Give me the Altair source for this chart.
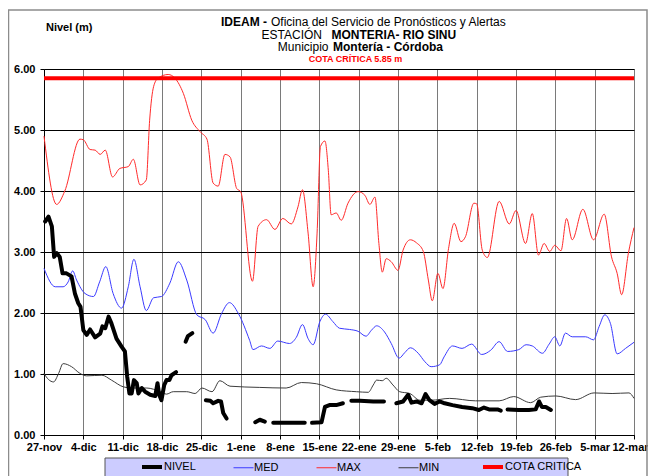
import altair as alt
import pandas as pd

# ---------------- data ----------------
TICK_DAYS = [0, 7, 14, 21, 28, 35, 42, 49, 56, 63, 70, 77, 84, 91, 98, 105]
TICK_LABELS = ["27-nov", "4-dic", "11-dic", "18-dic", "25-dic", "1-ene", "8-ene",
               "15-ene", "22-ene", "29-ene", "5-feb", "12-feb", "19-feb", "26-feb",
               "5-mar", "12-mar"]

SERIES = ["NIVEL", "MED", "MAX", "MIN", "COTA CRITICA"]
COLORS = ["#000000", "#3a3aff", "#ff2a2a", "#3c3c3c", "#ff0000"]
WIDTHS = [4, 1, 1, 1, 4]
COTA = 5.85

MAX_DAY = [0, 2.25, 3.7, 6.4, 7, 8.2, 9.1, 10, 10.9, 12.2, 13.5, 15, 15.9, 17.1, 18.2,
           18.8, 19.5, 20.3, 22.1, 23.3, 24.8, 26.3, 27.8, 29, 30.1, 31, 32.2, 33.1,
           34.3, 35, 37.1, 38.1, 39.6, 41.1, 42.5, 44, 45.2, 46, 47, 47.9, 48.6, 49.2,
           50, 50.6, 51.1, 52, 52.9, 54.1, 55.9, 57.1, 58, 58.9, 59.6, 60.2, 60.9, 61.8,
           63, 63.9, 65.2, 66.3, 67.5, 68.4, 69.1, 70.1, 71, 72, 73, 74.2, 75, 76.5, 77,
           78, 78.9, 81, 82.8, 84, 85.7, 86.9, 88, 89, 90, 90.9, 92, 93, 94, 95.9, 97.8,
           99.7, 101, 102, 102.8, 104, 105]
MAX_VAL = [4.90, 3.78, 4.00, 4.85, 4.84, 4.68, 4.67, 4.60, 4.67, 4.23, 4.37, 4.40, 4.52,
           4.10, 4.18, 5.16, 5.71, 5.85, 5.91, 5.85, 5.60, 5.16, 4.97, 4.85, 4.13, 4.08,
           4.60, 4.56, 4.04, 3.99, 2.52, 3.42, 3.53, 3.37, 3.55, 3.46, 3.74, 4.02, 3.31,
           2.43, 3.31, 4.73, 4.82, 4.34, 3.61, 3.64, 3.52, 3.80, 3.99, 3.93, 3.78, 3.90,
           3.14, 2.67, 2.89, 2.84, 2.70, 3.03, 3.20, 3.15, 3.01, 2.54, 2.20, 2.65, 2.40,
           3.06, 3.47, 3.17, 3.25, 3.80, 3.79, 3.03, 2.91, 3.83, 3.46, 3.68, 3.14, 3.63,
           2.95, 3.14, 3.01, 3.11, 3.02, 3.55, 3.20, 3.70, 3.20, 3.62, 2.92, 2.65, 2.30,
           2.98, 3.40]

MED_DAY = [0, 2, 3.4, 4.3, 5.1, 5.8, 7.3, 8.8, 9.9, 11, 12.3, 13.8, 15, 16, 17.1, 18.2,
           19.5, 20.9, 22.4, 23.9, 25.4, 27.2, 28.7, 30.1, 31.6, 33, 34.6, 36.6, 37.2,
           38.7, 40.2, 41.6, 43.7, 44.9, 46, 47, 47.9, 49.1, 50.1, 51.4, 52.6, 54.4,
           55.9, 57.3, 58.3, 59.2, 60.6, 61.8, 63.2, 64.2, 65.2, 66.6, 67.8, 68.9, 70.4,
           71.2, 72.7, 74.4, 76.1, 77.9, 79.5, 81, 82.5, 84.5, 85.8, 86.9, 88.7, 89.9,
           90.9, 91.8, 92.8, 94, 96.4, 97.8, 98.8, 99.8, 100.8, 102, 103.5, 105]
MED_VAL = [2.73, 2.43, 2.43, 2.51, 2.69, 2.54, 2.32, 2.27, 2.51, 2.76, 2.32, 2.08, 2.43,
           2.88, 2.43, 2.04, 2.25, 2.27, 2.49, 2.84, 2.54, 1.97, 1.89, 1.67, 1.99, 2.17,
           1.99, 1.55, 1.40, 1.46, 1.42, 1.54, 1.50, 1.60, 1.81, 1.58, 1.48, 1.86, 1.98,
           1.86, 1.75, 1.73, 1.70, 1.62, 1.72, 1.79, 1.69, 1.50, 1.26, 1.35, 1.43, 1.34,
           1.20, 1.12, 1.15, 1.28, 1.46, 1.42, 1.49, 1.32, 1.39, 1.53, 1.37, 1.40, 1.48,
           1.46, 1.34, 1.49, 1.61, 1.46, 1.67, 1.61, 1.61, 1.56, 1.78, 1.97, 1.83, 1.33,
           1.42, 1.52]

MIN_DAY = [0, 0.8, 1.7, 2.6, 3.4, 4.9, 6.4, 7.6, 10.3, 12, 14.1, 15.6, 18.3, 20.7, 21.8,
           23, 25.4, 26.9, 28.1, 29.9, 31.3, 33.1, 38.4, 43.1, 45.8, 48.5, 52, 55.6, 57.7,
           58.6, 59.2, 60.2, 60.9, 62.1, 63.3, 65.1, 66.9, 68.9, 72.2, 76.8, 81, 83.6,
           86.6, 88.4, 91.1, 94.6, 97.9, 101.1, 104.1, 105]
MIN_VAL = [1.01, 0.91, 0.87, 1.01, 1.17, 1.12, 1.01, 0.97, 0.98, 0.90, 0.79, 0.77, 0.77,
           0.71, 0.67, 0.71, 0.71, 0.68, 0.77, 0.71, 0.89, 0.80, 0.78, 0.77, 0.86, 0.84,
           0.74, 0.71, 0.70, 0.82, 0.90, 0.89, 0.93, 0.82, 0.71, 0.68, 0.57, 0.57, 0.60,
           0.56, 0.56, 0.63, 0.53, 0.62, 0.64, 0.58, 0.69, 0.68, 0.69, 0.60]

# NIVEL has gaps: one list of days / values per recorded stretch
NIVEL_DAYS = [
    [0.2, 0.8, 1.4, 1.8, 2.3, 2.8, 3.3, 4.0, 4.9, 5.5, 6.1, 6.5, 7.0, 7.6, 8.2, 9.1, 10.0,
     10.4, 10.9, 11.5, 12.0, 12.9, 13.8, 14.4, 14.8, 15.2, 15.6, 16.0, 16.5, 16.8, 17.4,
     18.0, 18.9, 19.8, 20.2, 20.5, 20.9, 21.4, 21.8, 22.3, 22.7, 23.5],
    [25.2, 25.6, 26.4],
    [28.8, 29.6, 30.1, 31.0, 31.5, 31.9, 32.5],
    [37.6, 38.4, 39.3],
    [40.8, 46.4],
    [47.7, 49.4, 50.0, 50.8, 52.0, 53.2],
    [54.7, 56.2, 58.6, 60.5],
    [62.7, 63.9, 64.8, 65.4, 66.3, 67.2, 67.9, 68.6, 69.5, 70.4, 71.3, 72.7, 74.4, 76.2,
     77.4, 78.3, 79.2, 80.7, 81.3],
    [82.5, 84.5, 86.3, 87.5, 88.1, 88.6, 89.3, 90.2],
]
NIVEL_VALS = [
    [3.50, 3.58, 3.42, 2.92, 2.98, 2.92, 2.65, 2.65, 2.60, 2.32, 2.16, 2.10, 1.72, 1.64,
     1.73, 1.60, 1.66, 1.78, 1.75, 1.94, 1.83, 1.58, 1.45, 1.37, 0.96, 0.68, 0.68, 0.90,
     0.85, 0.68, 0.77, 0.71, 0.66, 0.64, 0.85, 0.66, 0.57, 0.82, 0.90, 0.90, 0.98, 1.03],
    [1.53, 1.62, 1.67],
    [0.57, 0.56, 0.52, 0.56, 0.55, 0.36, 0.27],
    [0.21, 0.25, 0.22],
    [0.20, 0.20],
    [0.20, 0.21, 0.46, 0.49, 0.49, 0.52],
    [0.56, 0.56, 0.55, 0.55],
    [0.52, 0.55, 0.66, 0.53, 0.55, 0.52, 0.67, 0.57, 0.51, 0.55, 0.52, 0.49, 0.46, 0.44,
     0.41, 0.45, 0.42, 0.42, 0.40],
    [0.42, 0.41, 0.41, 0.42, 0.55, 0.46, 0.46, 0.41],
]

# ---------------- tables ----------------
rows = []
for name, days, vals in [("MIN", MIN_DAY, MIN_VAL), ("MED", MED_DAY, MED_VAL),
                         ("MAX", MAX_DAY, MAX_VAL)]:
    for d, v in zip(days, vals):
        rows.append({"series": name, "seg": name, "day": d, "value": v})
smooth_df = pd.DataFrame(rows)

nrows = []
for i, (days, vals) in enumerate(zip(NIVEL_DAYS, NIVEL_VALS)):
    for d, v in zip(days, vals):
        nrows.append({"series": "NIVEL", "seg": f"N{i}", "day": d, "value": v})
nivel_df = pd.DataFrame(nrows)

cota_df = pd.DataFrame({"series": ["COTA CRITICA"], "value": [COTA]})
one = pd.DataFrame({"k": [0]})

FONT = "Liberation Sans"
W, H = 590, 366

label_expr = "[" + ",".join(f"'{t}'" for t in TICK_LABELS) + "][round(datum.value / 7)]"

x_enc = alt.X("day:Q", scale=alt.Scale(domain=[0, 105], nice=False, zero=False),
              axis=alt.Axis(values=TICK_DAYS, labelExpr=label_expr, title=None,
                            grid=True, gridColor="#7a7a7a", gridWidth=1,
                            tickSize=4, tickColor="#000", domainColor="#000",
                            labelFont=FONT, labelFontSize=11, labelFontWeight="bold",
                            labelColor="#000", labelPadding=2, labelFlush=False,
                            labelOverlap=False,
                            labelOffset={"condition": {"test": "datum.value == 105",
                                                       "value": -4}, "value": 0}))
y_scale = alt.Scale(domain=[0, 6], nice=False)
y_axis = alt.Axis(values=[0, 1, 2, 3, 4, 5, 6], format=".2f", title=None, grid=True,
                  gridColor="#000", gridWidth=1, tickSize=4, tickColor="#000",
                  domainColor="#000", labelFont=FONT, labelFontSize=11,
                  labelFontWeight="bold", labelColor="#000", labelPadding=5)

legend = alt.Legend(orient="none", legendX=96, legendY=386, direction="horizontal",
                    title=None, symbolType="stroke", symbolSize=400, labelFont=FONT,
                    labelFontSize=11, labelColor="#000", labelOffset=0,
                    columnPadding=35, padding=0, symbolLimit=10)
color_enc = alt.Color("series:N", scale=alt.Scale(domain=SERIES, range=COLORS),
                      legend=legend)
width_enc = alt.StrokeWidth("series:N",
                            scale=alt.Scale(type="ordinal", domain=SERIES, range=WIDTHS),
                            legend=legend)

frame = alt.Chart(one).mark_rect(fill=None, stroke="#8c8c8c", strokeWidth=1.5).encode(
    x=alt.value(-35.5), x2=alt.value(603), y=alt.value(-59), y2=alt.value(440))
legend_box = alt.Chart(one).mark_rect(fill="#ccccff", stroke="#555555", strokeWidth=1).encode(
    x=alt.value(61), x2=alt.value(524), y=alt.value(389), y2=alt.value(440))

smooth = alt.Chart(smooth_df).mark_line(interpolate="monotone").encode(
    x=x_enc, y=alt.Y("value:Q", scale=y_scale, axis=y_axis),
    color=color_enc, strokeWidth=width_enc, detail="seg:N")
cota = alt.Chart(cota_df).mark_rule().encode(
    y=alt.Y("value:Q", scale=y_scale, axis=y_axis), x=alt.value(0), x2=alt.value(W),
    color=color_enc, strokeWidth=width_enc)
nivel = alt.Chart(nivel_df).mark_line(strokeCap="round", strokeJoin="round").encode(
    x=x_enc, y=alt.Y("value:Q", scale=y_scale, axis=y_axis),
    color=color_enc, strokeWidth=width_enc, detail="seg:N")


def txt(s, x, y, align, weight="normal", size=12, color="#000"):
    return alt.Chart(one).mark_text(text=s, align=align, baseline="alphabetic",
                                    font=FONT, fontSize=size, fontWeight=weight,
                                    color=color).encode(x=alt.value(x), y=alt.value(y))


titles = [
    txt("IDEAM -", 223, -43.5, "right", "bold"),
    txt("Oficina del Servicio de Pronósticos y Alertas", 227, -43.5, "left"),
    txt("ESTACIÓN", 278, -30.5, "right"),
    txt("MONTERIA- RIO SINU", 287.5, -30.5, "left", "bold"),
    txt("Municipio", 284.5, -17.7, "right"),
    txt("Montería - Córdoba", 289, -17.7, "left", "bold"),
    txt("COTA CRÍTICA  5.85 m", 311.5, -6.7, "center", "bold", 9, "#ff0000"),
    txt("Nivel (m)", 2, -38, "left", "bold", 11),
]

chart = alt.layer(frame, legend_box, smooth, cota, nivel, *titles).properties(
    width=W, height=H,
    autosize=alt.AutoSizeParams(type="none"),
    padding={"left": 36, "top": 61, "right": 14, "bottom": 45},
    background="#ffffff",
).configure_view(stroke="#8c8c8c", strokeWidth=1)

chart.save("out.html", embed_options={"renderer": "svg", "actions": False})
